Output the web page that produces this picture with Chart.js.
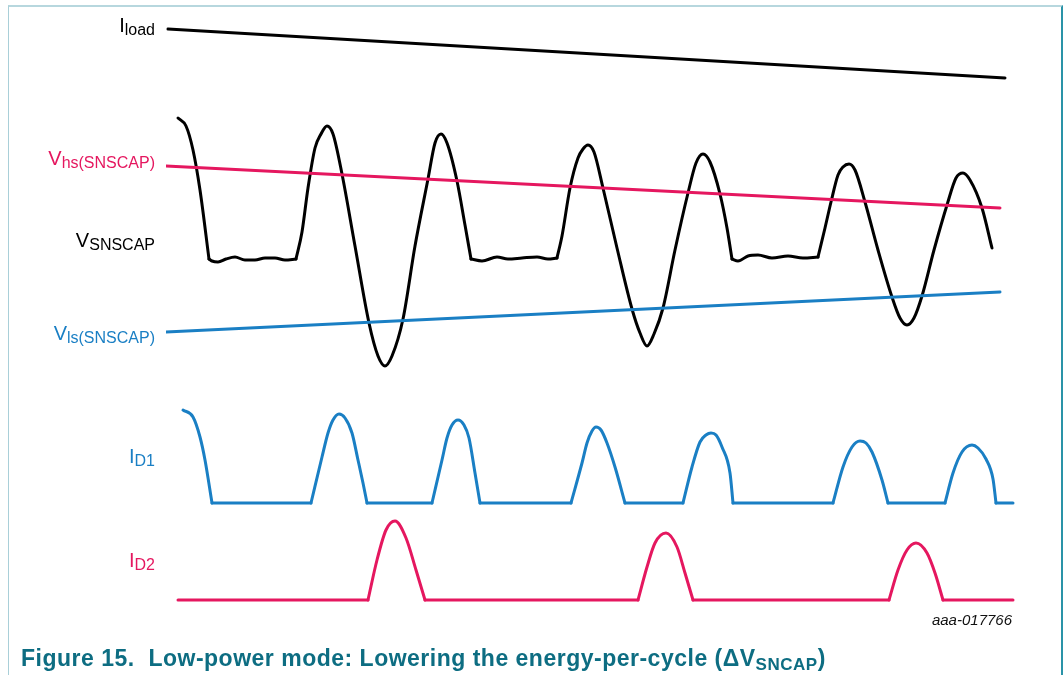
<!DOCTYPE html>
<html>
<head>
<meta charset="utf-8">
<script src="https://cdn.jsdelivr.net/npm/chart.js@4/dist/chart.umd.min.js"></script>
<style>
  body { margin: 0; background: #fff; font-family: "Liberation Sans", Arial, sans-serif; }
  #wrap { position: relative; width: 1064px; height: 675px; overflow: hidden; }
  #c { position: absolute; left: 0; top: 0; }
  #frame { position: absolute; left: 8px; top: 5px; width: 1052px; height: 700px;
           border-left: 1px solid #a9cfd8; border-top: 2px solid #b7d7de; border-right: 2px solid #2a93a8; }
  .lbl { position: absolute; right: 909px; font-size: 20px; line-height: 20px; white-space: nowrap; }
  .lbl span { position: relative; font-size: 16px; top: 3px; }
  .cap { position: absolute; left: 21px; top: 646px; font-size: 23px; line-height: 24px; letter-spacing: 0.5px;
         font-weight: bold; color: #0d6d82; white-space: nowrap; }
  .cap span { position: relative; font-size: 17px; top: 4px; }
  .code { position: absolute; right: 52px; top: 612px; font-size: 15px; line-height: 15px; font-style: italic; color: #111; }
</style>
</head>
<body>
<div id="wrap">
  <canvas id="c" width="1064" height="675"></canvas>
  <div id="frame"></div>
  <div class="lbl" style="top:15px;color:#000">I<span>load</span></div>
  <div class="lbl" style="top:148px;color:#e5175f">V<span>hs(SNSCAP)</span></div>
  <div class="lbl" style="top:230px;color:#000">V<span>SNSCAP</span></div>
  <div class="lbl" style="top:323px;color:#1a7fc4">V<span>ls(SNSCAP)</span></div>
  <div class="lbl" style="top:446px;color:#1a7fc4">I<span>D1</span></div>
  <div class="lbl" style="top:550px;color:#e5175f">I<span>D2</span></div>
  <div class="code">aaa-017766</div>
  <div class="cap">Figure 15.&nbsp; Low-power mode: Lowering the energy-per-cycle (ΔV<span>SNCAP</span>)</div>
</div>
<script>
// time axis in arbitrary units, each trace split in segments where the waveform has a corner
const loadCurrent = [[[0.2, 1.0], [83.9, 0.3]]];
const vHighThreshold = [[[0, 10.7], [83.4, 8.6]]];
const vLowThreshold = [[[0, 2.4], [83.4, 4.4]]];

const vSnscap = [
  [[1.2, 13.1], [2.0, 12.7], [2.7, 11.5], [3.4, 9.5], [4.3, 6.05]],
  [[4.3, 6.05], [4.6, 5.95], [5.2, 5.9], [6.0, 6.05], [6.9, 6.15], [7.9, 6.0], [8.9, 6.0], [9.9, 6.1], [10.9, 6.1], [11.9, 6.0], [13.0, 6.05]],
  [[13.0, 6.05], [13.6, 7.4], [14.2, 9.6], [14.9, 11.6], [15.5, 12.3], [16.1, 12.7], [16.7, 12.3], [17.6, 10.3], [18.9, 6.7],
   [20.3, 2.85], [21.2, 1.2], [21.9, 0.7], [22.6, 1.2], [23.7, 3.05], [24.9, 6.7], [26.2, 10.05], [26.9, 11.85],
   [27.5, 12.3], [28.1, 11.85], [29.1, 9.95], [29.9, 7.75], [30.5, 6.05]],
  [[30.5, 6.05], [31.6, 5.95], [33.1, 6.15], [34.2, 6.05], [35.6, 6.1], [37.1, 6.15], [38.2, 6.05], [39.1, 6.1]],
  [[39.1, 6.1], [39.6, 7.2], [40.4, 9.6], [41.2, 11.1], [41.7, 11.55], [42.2, 11.75], [42.8, 11.4], [43.7, 9.6], [45.1, 6.6],
   [46.6, 3.55], [47.4, 2.35], [48.1, 1.7], [48.8, 2.3], [49.7, 3.6], [50.9, 6.5], [52.2, 9.35], [53.0, 10.85],
   [53.7, 11.3], [54.4, 10.9], [55.4, 9.3], [56.1, 7.6], [56.6, 6.05]],
  [[56.6, 6.05], [57.2, 5.95], [58.2, 6.2], [59.2, 6.25], [60.6, 6.1], [62.2, 6.2], [63.7, 6.1], [65.2, 6.15]],
  [[65.2, 6.15], [65.9, 7.6], [66.5, 8.9], [67.2, 10.25], [67.7, 10.65], [68.3, 10.8], [68.9, 10.5], [69.9, 8.9], [71.2, 6.5],
   [72.6, 4.15], [73.4, 3.1], [74.1, 2.75], [74.8, 3.1], [75.6, 4.2], [76.8, 6.5], [78.1, 8.75], [79.0, 10.1],
   [79.7, 10.35], [80.4, 10.0], [81.6, 8.6], [82.6, 6.6]]
];

const iD1 = [
  [[1.7, 0.93], [2.7, 0.86], [3.4, 0.66], [3.9, 0.43], [4.6, 0]],
  [[4.6, 0], [14.5, 0]],
  [[14.5, 0], [15.6, 0.46], [16.2, 0.70], [16.7, 0.83], [17.3, 0.89], [17.9, 0.85], [18.6, 0.70], [19.2, 0.43], [19.7, 0.20], [20.1, 0]],
  [[20.1, 0], [26.6, 0]],
  [[26.6, 0], [27.6, 0.43], [28.1, 0.65], [28.6, 0.78], [29.2, 0.83], [29.8, 0.78], [30.3, 0.65], [30.9, 0.30], [31.4, 0]],
  [[31.4, 0], [40.5, 0]],
  [[40.5, 0], [41.6, 0.40], [42.1, 0.60], [42.6, 0.72], [43.0, 0.76], [43.5, 0.73], [44.1, 0.60], [44.9, 0.36], [45.9, 0]],
  [[45.9, 0], [51.7, 0]],
  [[51.7, 0], [52.6, 0.36], [53.4, 0.61], [54.0, 0.68], [54.5, 0.70], [55.0, 0.68], [55.6, 0.56], [56.4, 0.30], [56.7, 0]],
  [[56.7, 0], [66.7, 0]],
  [[66.7, 0], [67.7, 0.36], [68.6, 0.56], [69.4, 0.62], [70.0, 0.60], [70.6, 0.51], [71.6, 0.23], [72.2, 0]],
  [[72.2, 0], [77.9, 0]],
  [[77.9, 0], [78.7, 0.30], [79.6, 0.51], [80.6, 0.58], [81.2, 0.55], [82.0, 0.44], [82.7, 0.24], [83.0, 0]],
  [[83.0, 0], [84.7, 0]]
];

const iD2 = [
  [[1.2, 0], [20.2, 0]],
  [[20.2, 0], [21.1, 0.40], [22.0, 0.70], [22.9, 0.79], [24.0, 0.62], [25.0, 0.30], [25.9, 0]],
  [[25.9, 0], [47.2, 0]],
  [[47.2, 0], [48.1, 0.33], [48.9, 0.57], [50.0, 0.67], [51.1, 0.53], [51.9, 0.27], [52.7, 0]],
  [[52.7, 0], [72.3, 0]],
  [[72.3, 0], [73.2, 0.30], [74.1, 0.50], [75.0, 0.57], [76.1, 0.47], [76.9, 0.27], [77.7, 0]],
  [[77.7, 0], [84.7, 0]]
];

const PINK = '#e5175f', BLUE = '#1a7fc4', BLACK = '#000';
const AREA_H = 675;

// y axis range so that value 0 lands at zeroPx and 1 unit spans unitPx
function band(zeroPx, unitPx) {
  return { display: false, min: -(AREA_H - zeroPx) / unitPx, max: zeroPx / unitPx };
}

// one dataset per segment so the corners between segments stay sharp
function trace(segments, color, axis) {
  return segments.map(function (seg) {
    return {
      data: seg.map(function (p) { return { x: p[0], y: p[1] }; }),
      yAxisID: axis, borderColor: color, borderWidth: 3,
      pointRadius: 0, cubicInterpolationMode: 'monotone',
      borderCapStyle: 'round', borderJoinStyle: 'round', fill: false
    };
  });
}

var datasets = [].concat(
  trace(loadCurrent, BLACK, 'yI'),
  trace(vHighThreshold, PINK, 'yV'),
  trace(vLowThreshold, BLUE, 'yV'),
  trace(vSnscap, BLACK, 'yV'),
  trace(iD1, BLUE, 'yD1'),
  trace(iD2, PINK, 'yD2')
);

new Chart(document.getElementById('c').getContext('2d'), {
  type: 'line',
  data: { datasets: datasets },
  options: {
    responsive: false,
    animation: false,
    layout: { padding: { left: 166, right: 48, top: 0, bottom: 0 } },
    plugins: { legend: { display: false }, tooltip: { enabled: false } },
    scales: {
      x: { type: 'linear', display: false, min: 0, max: 85 },
      yI: band(99, 70),
      yV: band(380, 20),
      yD1: band(503, 100),
      yD2: band(600, 100)
    }
  }
});
</script>
</body>
</html>
